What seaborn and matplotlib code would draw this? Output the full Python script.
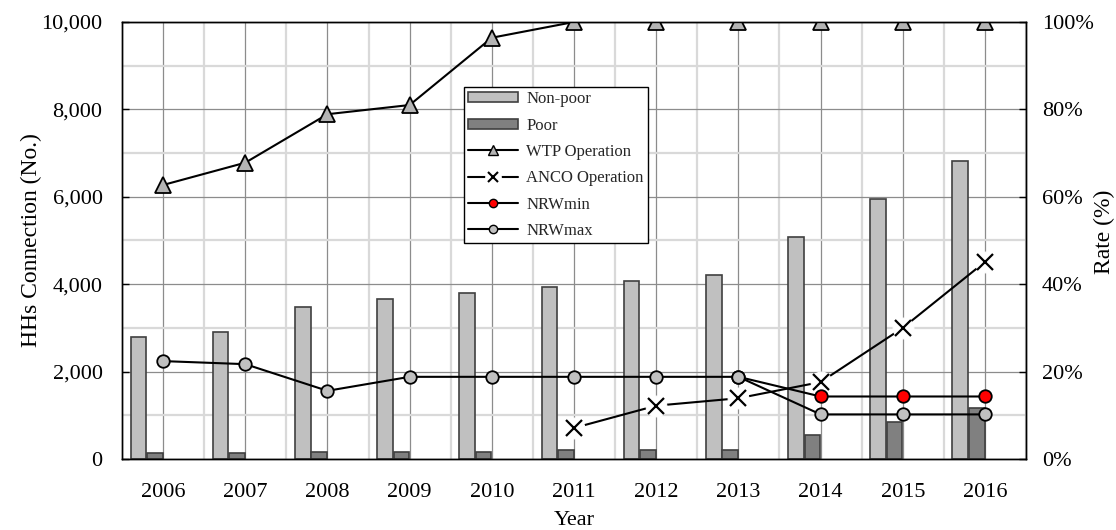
import numpy as np
import pandas as pd
import seaborn as sns
import matplotlib.pyplot as plt
from matplotlib.lines import Line2D
from matplotlib.patches import Patch
from matplotlib.ticker import FuncFormatter, PercentFormatter, MultipleLocator, FixedLocator

# data
years = [2006, 2007, 2008, 2009, 2010, 2011, 2012, 2013, 2014, 2015, 2016]
non_poor = [2780, 2910, 3480, 3660, 3800, 3940, 4070, 4200, 5070, 5950, 6820]
poor = [130, 130, 170, 170, 170, 210, 210, 210, 540, 850, 1170]
wtp_rate = [0.627, 0.678, 0.789, 0.810, 0.964, 1.0, 1.0, 1.0, 1.0, 1.0, 1.0]
anco_rate = [np.nan, np.nan, np.nan, np.nan, np.nan, 0.071, 0.122, 0.139, 0.176, 0.300, 0.451]
nrw_min = [np.nan, np.nan, np.nan, np.nan, np.nan, np.nan, np.nan, 0.188, 0.143, 0.143, 0.143]
nrw_max = [0.224, 0.217, 0.156, 0.188, 0.188, 0.188, 0.188, 0.188, 0.102, 0.102, 0.102]

sns.set_theme(style='white')
plt.rcParams['font.family'] = ['Liberation Serif', 'DejaVu Serif']

df = pd.DataFrame({'year': years, 'non_poor': non_poor, 'poor': poor,
                   'wtp': wtp_rate, 'anco': anco_rate,
                   'nrw_min': nrw_min, 'nrw_max': nrw_max})
# bars sit just left of each year (pair ends at the year centre)
df['np_pos'] = df['year'] - 0.3
df['p_pos'] = df['year'] - 0.1

fig, ax = plt.subplots(figsize=(11.16, 5.30), dpi=100)
fig.subplots_adjust(left=0.1093, right=0.9194, top=0.9585, bottom=0.134)

bar_edge = '#404040'
sns.barplot(data=df, x='np_pos', y='non_poor', native_scale=True, width=0.19,
            color='#c0c0c0', saturation=1, edgecolor=bar_edge, linewidth=1.2,
            errorbar=None, ax=ax, zorder=2)
sns.barplot(data=df, x='p_pos', y='poor', native_scale=True, width=0.19,
            color='#808080', saturation=1, edgecolor=bar_edge, linewidth=1.2,
            errorbar=None, ax=ax, zorder=2)

ax.set_xlim(2005.5, 2016.5)
ax.set_ylim(0, 10000)
ax.xaxis.set_major_locator(FixedLocator(years))
ax.xaxis.set_minor_locator(FixedLocator(np.arange(2005.5, 2017, 1.0)))
ax.set_xticklabels([str(y) for y in years])
ax.yaxis.set_major_locator(MultipleLocator(2000))
ax.yaxis.set_minor_locator(MultipleLocator(1000))
ax.yaxis.set_major_formatter(FuncFormatter(lambda v, p: f'{int(v):,}'))

ax.set_axisbelow(True)
ax.grid(which='major', axis='both', color='#8c8c8c', linewidth=0.9)
ax.grid(which='minor', axis='both', color='#d9d9d9', linewidth=1.6)

ax.tick_params(axis='x', which='major', length=0, pad=17, labelsize=16, colors='black')
ax.tick_params(axis='x', which='minor', direction='in', length=5, width=1, color='black')
ax.tick_params(axis='y', which='major', direction='in', length=5, width=1, pad=14,
               labelsize=16, colors='black')
ax.tick_params(axis='y', which='minor', length=0)

ax.set_xlabel('Year', fontsize=16, color='black')
ax.xaxis.set_label_coords(0.5, -0.118)
ax.set_ylabel('HHs Connection (No.)', fontsize=17, color='black')
ax.yaxis.set_label_coords(-0.0885, 0.5)

for s in ax.spines.values():
    s.set_color('black')
    s.set_linewidth(1)

# rate lines on the secondary axis
ax2 = ax.twinx()
sns.lineplot(data=df, x='year', y='wtp', color='black', linewidth=1.5, marker='^',
             markersize=11, markerfacecolor='#b4b4b4', markeredgecolor='black',
             markeredgewidth=1.3, errorbar=None, ax=ax2)
sns.lineplot(data=df, x='year', y='anco', color='black', linewidth=1.5, marker='o',
             markersize=15, markerfacecolor='white', markeredgecolor='white',
             errorbar=None, ax=ax2)
sns.lineplot(data=df, x='year', y='anco', color='black', linewidth=0, marker='x',
             markersize=11, markeredgecolor='black', markeredgewidth=1.6,
             errorbar=None, ax=ax2)
sns.lineplot(data=df, x='year', y='nrw_min', color='black', linewidth=1.5, marker='o',
             markersize=9, markerfacecolor='#ff0000', markeredgecolor='black',
             markeredgewidth=1.3, errorbar=None, ax=ax2)
sns.lineplot(data=df, x='year', y='nrw_max', color='black', linewidth=1.5, marker='o',
             markersize=9, markerfacecolor='#c0c0c0', markeredgecolor='black',
             markeredgewidth=1.3, errorbar=None, ax=ax2)

ax2.set_xlim(2005.5, 2016.5)
ax2.set_ylim(0, 1)
ax2.yaxis.set_major_locator(MultipleLocator(0.2))
ax2.yaxis.set_major_formatter(PercentFormatter(1.0, decimals=0))
ax2.tick_params(axis='y', which='major', direction='in', length=5, width=1, pad=11.5,
                labelsize=16, colors='black')
ax2.set_ylabel('Rate (%)', fontsize=17, color='black')
ax2.yaxis.set_label_coords(1.0755, 0.52)
for s in ax2.spines.values():
    s.set_color('black')
    s.set_linewidth(1)

handles = [
    Patch(facecolor='#c0c0c0', edgecolor=bar_edge, linewidth=1.2),
    Patch(facecolor='#808080', edgecolor=bar_edge, linewidth=1.2),
    Line2D([], [], color='black', linewidth=1.5, marker='^', markersize=7,
           markerfacecolor='#b4b4b4', markeredgecolor='black'),
    (Line2D([], [], color='black', linewidth=1.5, marker='o', markersize=11,
            markerfacecolor='white', markeredgecolor='white'),
     Line2D([], [], linestyle='none', marker='x', markersize=7,
            markeredgecolor='black', markeredgewidth=1.5)),
    Line2D([], [], color='black', linewidth=1.5, marker='o', markersize=6,
           markerfacecolor='#ff0000', markeredgecolor='black'),
    Line2D([], [], color='black', linewidth=1.5, marker='o', markersize=6,
           markerfacecolor='#c0c0c0', markeredgecolor='black'),
]
labels = ['Non-poor', 'Poor', 'WTP Operation', 'ANCO Operation', 'NRWmin', 'NRWmax']
leg = ax2.legend(handles, labels, loc='upper left', bbox_to_anchor=(0.378, 0.851),
                 fontsize=12, frameon=True, fancybox=False, framealpha=1,
                 edgecolor='black', handlelength=3.0, handleheight=0.55,
                 labelspacing=0.62, borderpad=0.25, handletextpad=0.5,
                 borderaxespad=0)
leg.get_frame().set_linewidth(1)

fig.savefig('out.png', dpi=100)
